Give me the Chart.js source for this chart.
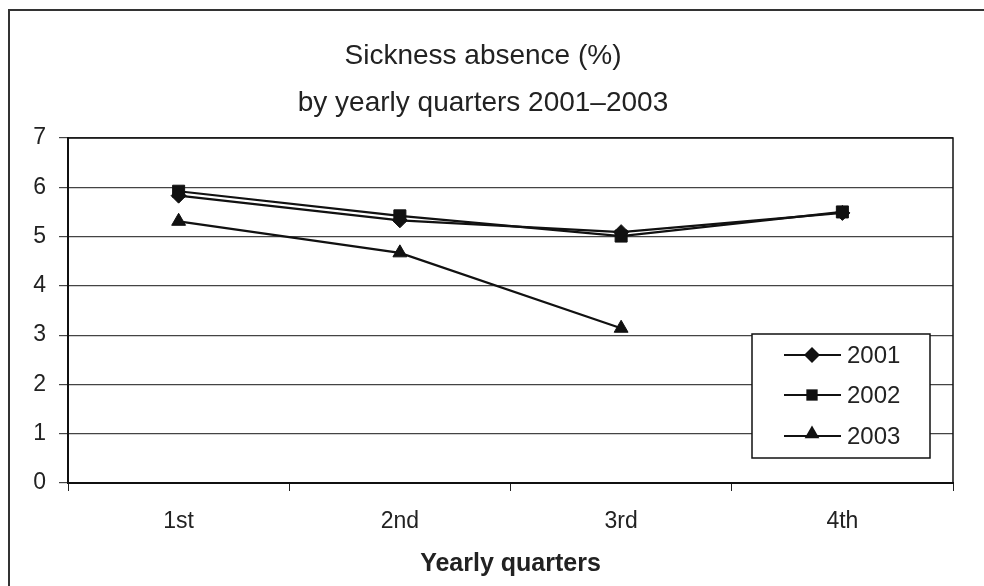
<!DOCTYPE html>
<html>
<head>
<meta charset="utf-8">
<script src="https://cdn.jsdelivr.net/npm/chart.js@4.4.1/dist/chart.umd.min.js"></script>
<style>
  html, body { margin: 0; padding: 0; background: #fff; }
  #wrap { width: 984px; height: 586px; }
</style>
</head>
<body>
<div id="wrap"><canvas id="absenceChart" width="984" height="586"></canvas></div>
<script>
const quarters = ['1st', '2nd', '3rd', '4th'];
const absence2001 = [5.83, 5.33, 5.09, 5.48];
const absence2002 = [5.92, 5.42, 5.01, 5.50];
const absence2003 = [5.31, 4.67, 3.14, null];
const yTicks = [0, 1, 2, 3, 4, 5, 6, 7];

const FONT = '"Liberation Sans", Arial, sans-serif';

// white page + the grey frame round the figure
const frame = {
    id: 'frame',
    beforeDraw(chart) {
        const ctx = chart.ctx;
        ctx.save();
        ctx.fillStyle = '#fff';
        ctx.fillRect(0, 0, chart.width, chart.height);
        ctx.strokeStyle = '#333';
        ctx.lineWidth = 2;
        ctx.beginPath();
        ctx.moveTo(9, chart.height);
        ctx.lineTo(9, 10);
        ctx.lineTo(chart.width, 10);
        ctx.stroke();
        ctx.restore();
    },
    afterDatasetsDraw(chart) {
        const a = chart.chartArea;
        const ctx = chart.ctx;
        ctx.save();
        ctx.strokeStyle = '#111';
        ctx.lineWidth = 1.5;
        ctx.strokeRect(a.left, a.top, a.right - a.left, a.bottom - a.top);
        ctx.restore();
    }
};

function marker(ctx, style, x, y, r) {
    ctx.beginPath();
    if (style === 'rectRot') {
        ctx.moveTo(x, y - r); ctx.lineTo(x + r, y); ctx.lineTo(x, y + r); ctx.lineTo(x - r, y);
    } else if (style === 'rect') {
        const s = r * Math.SQRT1_2;
        ctx.rect(x - s, y - s, 2 * s, 2 * s);
    } else {
        ctx.moveTo(x, y - r); ctx.lineTo(x + r * 0.866, y + r * 0.5); ctx.lineTo(x - r * 0.866, y + r * 0.5);
    }
    ctx.closePath();
    ctx.fill();
}

// boxed legend sitting inside the plot, bottom right
const boxLegend = {
    id: 'boxLegend',
    afterDraw(chart) {
        const ctx = chart.ctx;
        const box = { x: 752, y: 334, w: 178, h: 124 };
        ctx.save();
        ctx.fillStyle = '#fff';
        ctx.fillRect(box.x, box.y, box.w, box.h);
        ctx.strokeStyle = '#111';
        ctx.lineWidth = 1.5;
        ctx.strokeRect(box.x, box.y, box.w, box.h);
        ctx.font = '24px ' + FONT;
        ctx.textBaseline = 'middle';
        const rows = [355, 395, 436];
        chart.data.datasets.forEach((ds, i) => {
            const y = rows[i];
            ctx.strokeStyle = '#111';
            ctx.lineWidth = 2;
            ctx.beginPath();
            ctx.moveTo(784, y);
            ctx.lineTo(841, y);
            ctx.stroke();
            ctx.fillStyle = '#111';
            if (ds.pointStyle === 'triangle') marker(ctx, 'triangle', 812, y - 2, 8.5);
            else marker(ctx, ds.pointStyle, 812, y, 8);
            ctx.fillStyle = '#222';
            ctx.fillText(ds.label, 847, y + 1);
        });
        ctx.restore();
    }
};

const line = (label, data, style, radius) => ({
    label: label,
    data: data,
    borderColor: '#111',
    borderWidth: 2.2,
    backgroundColor: '#111',
    pointStyle: style,
    pointRadius: radius,
    pointBorderWidth: 1,
    pointBorderColor: '#111',
    pointBackgroundColor: '#111',
    tension: 0,
    spanGaps: false
});

new Chart(document.getElementById('absenceChart').getContext('2d'), {
    type: 'line',
    data: {
        labels: quarters,
        datasets: [
            line('2001', absence2001, 'rectRot', 7.5),
            line('2002', absence2002, 'rect', 8.5),
            line('2003', absence2003, 'triangle', 8)
        ]
    },
    options: {
        responsive: false,
        animation: false,
        layout: { padding: { left: 13, right: 31, top: 0, bottom: 0 }, autoPadding: false },
        plugins: {
            legend: { display: false },
            tooltip: { enabled: false },
            title: {
                display: true,
                text: ['Sickness absence (%)', 'by yearly quarters 2001\u20132003'],
                color: '#222',
                font: { family: FONT, size: 28, weight: 'normal', lineHeight: '47px' },
                padding: { top: 33, bottom: 11 }
            }
        },
        scales: {
            x: {
                offset: true,
                grid: { display: true, drawOnChartArea: false, drawTicks: true, tickLength: 8, color: '#222', lineWidth: 1, offset: true },
                border: { display: true, color: '#111', width: 2 },
                ticks: { color: '#222', font: { family: FONT, size: 23 }, padding: 17, maxRotation: 0 },
                title: {
                    display: true,
                    text: 'Yearly quarters',
                    color: '#222',
                    font: { family: FONT, size: 25, weight: 'bold' },
                    padding: { top: 0, bottom: 7 }
                },
                afterFit(scale) { scale.height = 103; }
            },
            y: {
                min: 0,
                max: 7,
                afterBuildTicks(scale) { scale.ticks = yTicks.map(v => ({ value: v })); },
                grid: { color: '#444', lineWidth: 1.2, tickLength: 9, drawTicks: true },
                border: { display: true, color: '#111', width: 2 },
                ticks: { color: '#222', font: { family: FONT, size: 23 }, padding: 13 },
                afterFit(scale) { scale.width = 55; }
            }
        }
    },
    plugins: [frame, boxLegend]
});
</script>
</body>
</html>
